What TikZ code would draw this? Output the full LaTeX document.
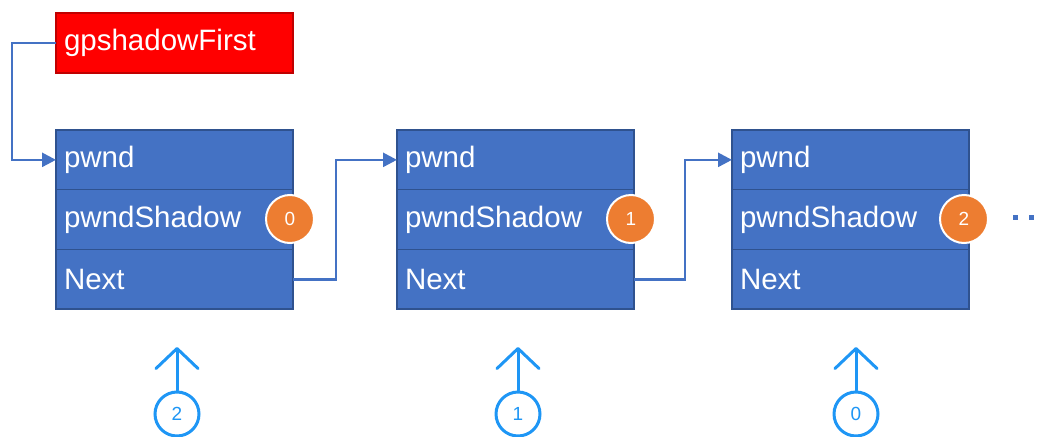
\documentclass[tikz,border=0pt]{standalone}
\usepackage{fontspec}
\setmainfont{Liberation Sans}
\usetikzlibrary{arrows.meta}
\definecolor{cellblue}{HTML}{4472C4}
\definecolor{celledge}{HTML}{2F528F}
\definecolor{headred}{HTML}{FF0000}
\definecolor{headedge}{HTML}{C00000}
\definecolor{badgeorange}{HTML}{ED7D31}
\definecolor{markerblue}{HTML}{1E96F5}
\begin{document}
\begin{tikzpicture}[x=1pt,y=-1pt,
  cell/.style={draw=celledge, line width=1.5pt, fill=cellblue, text=white,
    minimum width=237pt, minimum height=59.7pt, inner xsep=8pt, inner ysep=0pt,
    outer sep=0pt, text width=221pt, align=left, anchor=north west,
    font=\fontsize{29.5}{34}\selectfont},
  head/.style={cell, draw=headedge, fill=headred, minimum height=60pt},
  link/.style={draw=cellblue, line width=2.6pt, -{Triangle[length=14pt,width=14pt]}},
  badge/.style={circle, fill=badgeorange, draw=white, line width=2pt,
    minimum size=48pt, inner sep=0pt, text=white, font=\fontsize{19}{22}\selectfont},
  tally/.style={circle, draw=markerblue, line width=3pt, fill=white,
    minimum size=44pt, inner sep=0pt, text=markerblue, font=\fontsize{19}{22}\selectfont},
  pointer/.style={draw=markerblue, line width=3pt, line cap=round,
    -{Straight Barb[length=20pt,width=42pt,round]}},
  dotsq/.style={fill=cellblue, minimum size=5pt, inner sep=0pt}
]
\useasboundingbox (0,0) rectangle (1043,436);
\clip (0,0) rectangle (1043,436);

% list head
\node[head] (first) at (56,13) {gpshadowFirst};

% three list entries
\foreach \k/\x in {1/56, 2/397, 3/732} {
  \node[cell] (pwnd\k) at (\x,130) {pwnd};
  \node[cell] (shad\k) at (pwnd\k.south west) {pwndShadow};
  \node[cell] (next\k) at (shad\k.south west) {Next};
}

% links between entries
\draw[link] (first.west) -- ++(-44,0) |- (pwnd1.west);
\draw[link] (next1.east) -- ++(43,0) |- (pwnd2.west);
\draw[link] (next2.east) -- ++(51,0) |- (pwnd3.west);

% order badges on the shadow fields
\node[badge] (b1) at (290,219) {0};
\node[badge] (b2) at (631,219) {1};
\node[badge] (b3) at (964,219) {2};

% continuation dots
\node[dotsq] (d1) at (1015,217) {};
\node[dotsq] (d2) at (1031,217) {};

% walk order markers below the entries
\foreach \k/\x/\n in {1/177/2, 2/518/1, 3/856/0} {
  \node[tally] (m\k) at (\x,414) {\n};
  \coordinate (t\k) at (\x,347);
  \draw[pointer] (m\k.north) -- (t\k);
}
\end{tikzpicture}
\end{document}
